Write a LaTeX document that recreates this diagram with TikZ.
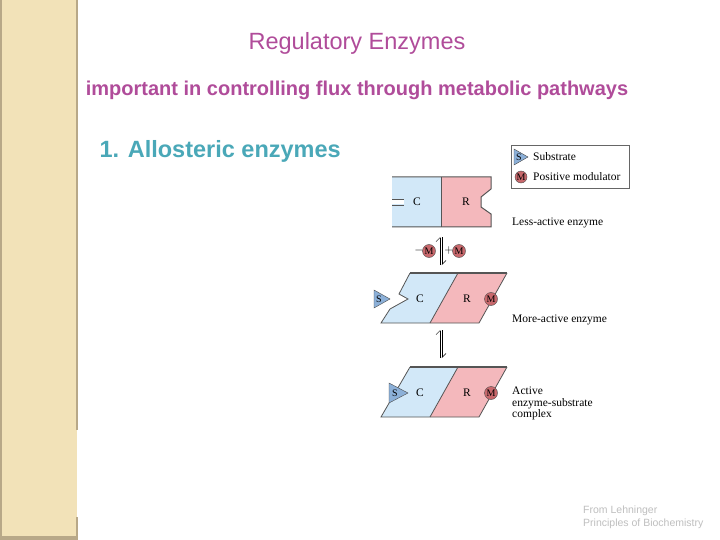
\documentclass[tikz,border=0pt]{standalone}
\usepackage{fontspec}
\setmainfont{Liberation Serif}
\newfontfamily\arial{Liberation Sans}
\usetikzlibrary{arrows.meta}
\definecolor{beige}{HTML}{F2E2B8}
\definecolor{beigedk}{HTML}{B8A888}
\definecolor{mag}{HTML}{B04C9A}
\definecolor{teal1}{HTML}{4AA8B8}
\definecolor{cblue}{HTML}{D2E8F8}
\definecolor{rpink}{HTML}{F4B8BC}
\definecolor{edge}{HTML}{555555}
\definecolor{mred}{HTML}{C8686C}
\definecolor{sblue}{HTML}{8CB0D8}
\tikzset{
 lbl/.style={font=\fontsize{11.5}{13}\selectfont, inner sep=0pt},
 mcirc/.style={circle, draw=black!70, fill=mred, minimum size=13pt, inner sep=0pt, font=\fontsize{10}{10}\selectfont},
 sfill/.style={fill=sblue, draw=black!70},
 harpoon/.style={-{Straight Barb[left,length=4pt]}, line width=0.5pt}
}
\begin{document}
\begin{tikzpicture}[x=1pt,y=-1pt]
\useasboundingbox (0,0) rectangle (720,540);
\fill[white] (0,0) rectangle (720,540);
% left bar
\fill[beige] (0,0) rectangle (77,540);
\fill[beigedk] (0,0) rectangle (2,540);
\fill[beigedk] (0,536) rectangle (78,540);
\draw[beigedk, line width=1.5pt] (77,0) -- (77,430);
\draw[beigedk, line width=1.5pt] (77,517) -- (77,540);
% texts
\node[font=\arial\fontsize{23.5}{26}\selectfont, text=mag] (title) at (357,43) {Regulatory Enzymes};
\node[font=\arial\bfseries\fontsize{20}{24}\selectfont, text=mag] (sub) at (357,90) {important in controlling flux through metabolic pathways};
\node[font=\arial\bfseries\fontsize{23.5}{26}\selectfont, text=teal1, anchor=west] (allo) at (96,151) {1. Allosteric enzymes};
% legend
\node[draw=black!60, minimum width=118pt, minimum height=43pt, anchor=north west] (leg) at (511,145) {};
\draw[sfill] (514,149) -- (528,157) -- (514,165) -- cycle;
\node[font=\fontsize{10}{10}\selectfont, inner sep=0pt] (ls) at (519,157) {S};
\node[mcirc, minimum size=12pt] (lm) at (521,177) {M};
\node[lbl, anchor=west] (lt1) at (533,157) {Substrate};
\node[lbl, anchor=west] (lt2) at (533,177) {Positive modulator};
% top enzyme
\fill[cblue] (392,177) rectangle (441,227);
\fill[rpink] (441,177) -- (491,177) -- (491,189) -- (481,197) -- (481,207) -- (491,214) -- (491,227) -- (441,227) -- cycle;
\draw[edge, line width=1pt] (392,177) -- (491,177) -- (491,189) -- (481,197) -- (481,207) -- (491,214) -- (491,227) -- (392,227);
\draw[edge, line width=1pt] (441,177) -- (441,227);
\fill[white] (392,199.5) rectangle (403.6,204.5);
\draw[edge, line width=0.8pt] (392,199) -- (404,199);
\draw[edge, line width=0.8pt] (392,205) -- (404,205);
\node[lbl] (c1) at (417,202) {C};
\node[lbl] (r1) at (466,202) {R};
\node[lbl, anchor=west] (t1) at (512,223) {Less-active enzyme};
% arrows 1
\coordinate (a1t) at (440,237); \coordinate (a1b) at (440,265);
\draw[harpoon] ([xshift=0pt]a1b) -- ([xshift=0pt]a1t);
\draw[harpoon] ([xshift=2pt]a1t) -- ([xshift=2pt]a1b);
\node[lbl] (mm) at (419,251) {$-$};
\node[mcirc] (m1) at (429,251) {M};
\node[lbl] (pm) at (449,251) {$+$};
\node[mcirc] (m2) at (459,251) {M};
% middle enzyme
\fill[cblue] (410,273) -- (458,273) -- (430,323) -- (381,323) -- (390,309) -- (408,299) -- (399,294) -- cycle;
\fill[rpink] (458,273) -- (507,273) -- (479,323) -- (430,323) -- cycle;
\draw[edge, line width=0.8pt] (410,273) -- (399,294) -- (408,299) -- (390,309) -- (381,323) -- (479,323) -- (507,273);
\draw[edge, line width=1.5pt] (410,273) -- (507,273);
\draw[edge, line width=0.8pt] (458,273) -- (430,323);
\draw[sfill] (374,290) -- (390,299) -- (374,308) -- cycle;
\node[font=\fontsize{10}{10}\selectfont, inner sep=0pt] (s2) at (379,299) {S};
\node[lbl] (c2) at (420,299) {C};
\node[lbl] (r2) at (467,299) {R};
\node[mcirc] (m3) at (491,299) {M};
\node[lbl, anchor=west] (t2) at (512,320) {More-active enzyme};
% arrows 2
\coordinate (a2t) at (440,330); \coordinate (a2b) at (440,358);
\draw[harpoon] ([xshift=0pt]a2b) -- ([xshift=0pt]a2t);
\draw[harpoon] ([xshift=2pt]a2t) -- ([xshift=2pt]a2b);
% bottom enzyme
\fill[cblue] (410,367) -- (458,367) -- (430,417) -- (381,417) -- cycle;
\fill[rpink] (458,367) -- (507,367) -- (479,417) -- (430,417) -- cycle;
\draw[edge, line width=0.8pt] (410,367) -- (381,417) -- (479,417) -- (507,367);
\draw[edge, line width=1.5pt] (410,367) -- (507,367);
\draw[edge, line width=0.8pt] (458,367) -- (430,417);
\draw[sfill] (389,383) -- (408,393) -- (389,403) -- cycle;
\node[font=\fontsize{10}{10}\selectfont, inner sep=0pt] (s3) at (395,393) {S};
\node[lbl] (c3) at (420,393) {C};
\node[lbl] (r3) at (467,393) {R};
\node[mcirc] (m4) at (491,393) {M};
\node[lbl, anchor=north west, align=left, font=\fontsize{11.5}{11.5}\selectfont] (t3) at (512,387) {Active\\enzyme-substrate\\complex};
% credit
\node[font=\arial\fontsize{10.5}{13}\selectfont, text=black!25, anchor=north west, align=left, inner sep=0pt] (cred) at (583,506) {From Lehninger\\Principles of Biochemistry};
\end{tikzpicture}
\end{document}
